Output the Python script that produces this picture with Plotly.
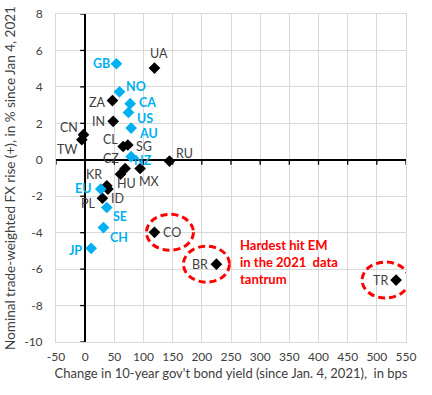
import plotly.graph_objects as go

# ---- data ----
em_codes = ["UA", "ZA", "IN", "CN", "TW", "CL", "SG", "RU", "CZ", "HU", "MX",
            "KR", "ID", "PL", "CO", "BR", "TR"]
em_x = [118.8, 46.8, 48.0, -2.9, -5.7, 65.1, 73.1, 144.5, 68.5, 60.5, 94.2,
        37.1, 38.9, 29.6, 118.8, 225.0, 533.0]
em_y = [5.03, 3.25, 2.11, 1.38, 1.10, 0.73, 0.81, -0.07, -0.48, -0.79, -0.48,
        -1.43, -1.61, -2.11, -3.98, -5.73, -6.60]

dm_codes = ["GB", "NO", "CA", "US", "AU", "NZ", "EU", "SE", "CH", "JP"]
dm_x = [53.6, 58.8, 77.1, 74.2, 78.8, 78.8, 26.8, 37.1, 31.4, 10.3]
dm_y = [5.27, 3.73, 3.08, 2.60, 1.74, 0.17, -1.61, -2.62, -3.72, -4.86]

x_ticks = [-50, 0, 50, 100, 150, 200, 250, 300, 350, 400, 450, 500, 550]
x_tick_labels = ["-50", "0", "50", "100", "150", "200", "250", "300", "350",
                 "400", "450", "500", "550"]
y_ticks = [-10, -8, -6, -4, -2, 0, 2, 4, 6, 8]
y_tick_labels = ["-10", "-8", "-6", "-4", "-2", "0", "2", "4", "6", "8"]
highlighted = ["CO", "BR", "TR"]
note_text = "Hardest hit EM<br>in the 2021  data<br>tantrum"
x_title = "Change in 10-year gov't bond yield (since Jan. 4, 2021),  in bps"
y_title = "Nominal trade-weighted FX rise (+), in % since Jan 4, 2021"

# ---- styling: label placement (anchor, x shift px, y shift px; +y = down) ----
label_style = {
    "UA": ("center", 5, -15), "ZA": ("right", -5, 2), "IN": ("right", -7, 0),
    "CN": ("right", -4, -7), "TW": ("right", -4, 10), "CL": ("right", -4, -7),
    "SG": ("left", 7, 1), "RU": ("left", 6, -8), "CZ": ("right", -5, -10),
    "HU": ("center", 6, 9), "MX": ("left", -2, 13), "KR": ("right", -4, -11),
    "ID": ("left", 2, 9), "PL": ("right", -5, 5), "CO": ("left", 8, 0),
    "BR": ("right", -7, 0), "TR": ("right", -7, 0),
    "GB": ("right", -5, 0), "NO": ("left", 6, -5), "CA": ("left", 8, -1),
    "US": ("left", 8, 6), "AU": ("left", 7, 5), "NZ": ("left", 2, 4),
    "EU": ("right", -9, -1), "SE": ("left", 5, 9), "CH": ("left", 6, 10),
    "JP": ("right", -8, 2),
}
# ellipse extents relative to the point, in pixels (left, right, bottom, top)
ellipse_px = {"CO": (-8, 39, -18, 18), "BR": (-33, 13, -18, 18), "TR": (-34, 13, -18, 18)}

FONT = "Lato"
BLUE = "#00B0F0"
GRAY_TXT = "#404040"
GRID = "#D9D9D9"

fig = go.Figure()
fig.add_trace(go.Scatter(
    x=em_x, y=em_y, mode="markers",
    marker=dict(symbol="diamond", size=9, color="black"),
    cliponaxis=False, showlegend=False, hoverinfo="skip",
))
fig.add_trace(go.Scatter(
    x=dm_x, y=dm_y, mode="markers",
    marker=dict(symbol="diamond", size=9, color=BLUE),
    cliponaxis=False, showlegend=False, hoverinfo="skip",
))

annotations = []
for codes, xs, ys, font in [
    (em_codes, em_x, em_y, dict(family=FONT, size=12.5, color=GRAY_TXT)),
    (dm_codes, dm_x, dm_y, dict(family=FONT, size=12.5, color=BLUE, weight="bold")),
]:
    for c, xv, yv in zip(codes, xs, ys):
        anchor, dx, dy = label_style[c]
        annotations.append(dict(x=xv, y=yv, xref="x", yref="y", text=c,
                                showarrow=False, xanchor=anchor, yanchor="middle",
                                xshift=dx, yshift=-dy, font=font, borderpad=0))
annotations.append(dict(x=262, y=-5.6, xref="x", yref="y", text=note_text,
                        showarrow=False, xanchor="left", yanchor="middle", align="left",
                        font=dict(family=FONT, size=13, color="#FF0000", weight="bold")))

shapes = []
for c in highlighted:
    i = em_codes.index(c)
    l, r, b, t = ellipse_px[c]
    shapes.append(dict(type="circle", xref="x", yref="y",
                       xsizemode="pixel", ysizemode="pixel",
                       xanchor=em_x[i], yanchor=em_y[i],
                       x0=l, x1=r, y0=b, y1=t,
                       line=dict(color="#FF0000", width=3, dash="7px,4px")))
# small tick marks on the black axis lines
for yv in y_ticks:
    shapes.append(dict(type="line", xref="x", yref="y", xsizemode="pixel",
                       xanchor=0, x0=-5, x1=0, y0=yv, y1=yv,
                       line=dict(color="black", width=1.3)))
for xv in x_ticks:
    shapes.append(dict(type="line", xref="x", yref="y", ysizemode="pixel",
                       yanchor=0, y0=-5, y1=0, x0=xv, x1=xv,
                       line=dict(color="black", width=1.3)))

fig.update_layout(
    width=432, height=395,
    margin=dict(l=56, r=26, t=14, b=53, autoexpand=False),
    paper_bgcolor="white", plot_bgcolor="white",
    font=dict(family=FONT, size=12, color=GRAY_TXT),
    shapes=shapes, annotations=annotations,
)
fig.update_xaxes(
    range=[-50, 550], tickvals=x_ticks, ticktext=x_tick_labels,
    showgrid=True, gridcolor=GRID, gridwidth=1,
    zeroline=True, zerolinecolor="black", zerolinewidth=1.5, automargin=False,
    showline=True, linecolor=GRID, mirror=True, ticks="", ticklabelstandoff=4,
    ticklabeloverflow="allow",
    tickfont=dict(family=FONT, size=12, color=GRAY_TXT),
    title=dict(text=x_title, font=dict(family=FONT, size=13, color=GRAY_TXT), standoff=5),
)
fig.update_yaxes(
    range=[-10, 8], tickvals=y_ticks, ticktext=y_tick_labels,
    showgrid=True, gridcolor=GRID, gridwidth=1,
    zeroline=True, zerolinecolor="black", zerolinewidth=1.5, automargin=False,
    showline=True, linecolor=GRID, mirror=True, ticks="", ticklabelstandoff=10,
    ticklabeloverflow="allow",
    tickfont=dict(family=FONT, size=12, color=GRAY_TXT),
    title=dict(text=y_title, font=dict(family=FONT, size=13.5, color=GRAY_TXT), standoff=5),
)

# remove the browser's default 8px body margin so the figure fills the window
fig.write_html("out.html", config={"displayModeBar": False},
               post_script="document.body.style.margin='0';document.body.style.overflow='hidden';")
